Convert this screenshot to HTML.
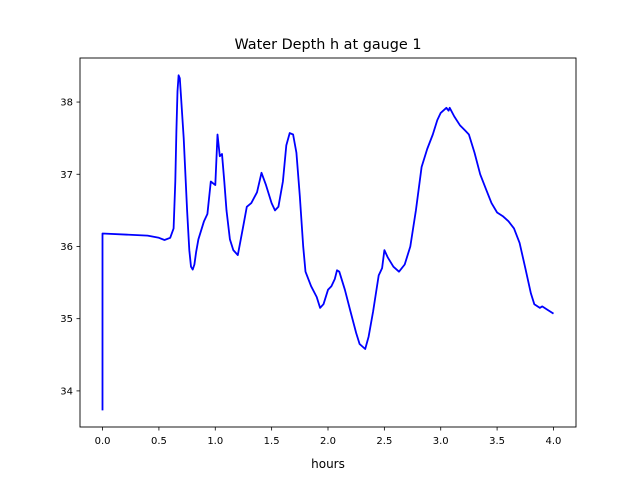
<!DOCTYPE html>
<html><head><meta charset="utf-8"><style>
body{margin:0;background:#fff;font-family:"Liberation Sans","DejaVu Sans",sans-serif}
svg text{font-family:"DejaVu Sans","Liberation Sans",sans-serif}
</style></head><body>
<svg id="chart" width="640" height="480" viewBox="0 0 640 480" xmlns="http://www.w3.org/2000/svg">
<rect width="640" height="480" fill="#fff"/>
<text x="328" y="49" text-anchor="middle" font-size="14.4">Water Depth h at gauge 1</text>
<g id="xt"></g>
<g id="yt"></g>
<path id="line" fill="none" stroke="#0000ff" stroke-width="1.8" stroke-linejoin="round"/>
<rect x="80" y="58" width="496" height="369" fill="none" stroke="#000" stroke-width="0.9"/>
<text x="328" y="468" text-anchor="middle" font-size="12">hours</text>
</svg>
<script>
const hours=[0,0,0.4,0.5,0.55,0.6,0.63,0.645,0.655,0.665,0.675,0.685,0.695,0.72,0.75,0.77,0.785,0.8,0.815,0.83,0.85,0.9,0.93,0.96,1.0,1.02,1.04,1.06,1.08,1.1,1.13,1.16,1.2,1.22,1.25,1.28,1.32,1.37,1.41,1.45,1.5,1.53,1.56,1.6,1.63,1.66,1.69,1.72,1.75,1.78,1.8,1.85,1.9,1.93,1.96,2.0,2.03,2.06,2.08,2.1,2.15,2.2,2.25,2.28,2.33,2.36,2.4,2.45,2.48,2.5,2.53,2.58,2.63,2.68,2.73,2.78,2.83,2.88,2.93,2.97,3.0,3.05,3.07,3.08,3.12,3.17,3.22,3.25,3.3,3.35,3.4,3.45,3.5,3.55,3.6,3.65,3.7,3.75,3.8,3.83,3.88,3.9,3.95,4.0];
const depth=[33.73,36.18,36.15,36.12,36.09,36.12,36.25,36.9,37.6,38.15,38.37,38.33,38.1,37.5,36.5,35.95,35.72,35.68,35.75,35.92,36.1,36.35,36.45,36.9,36.85,37.55,37.25,37.28,36.9,36.5,36.1,35.95,35.88,36.05,36.3,36.55,36.6,36.75,37.02,36.85,36.6,36.5,36.55,36.9,37.4,37.57,37.55,37.3,36.7,36.0,35.65,35.45,35.3,35.15,35.2,35.4,35.45,35.55,35.67,35.65,35.4,35.1,34.8,34.65,34.58,34.75,35.1,35.6,35.7,35.95,35.85,35.72,35.65,35.75,36.0,36.5,37.1,37.35,37.55,37.75,37.85,37.92,37.88,37.92,37.8,37.68,37.6,37.55,37.3,37.0,36.8,36.6,36.47,36.42,36.35,36.25,36.05,35.7,35.35,35.2,35.15,35.17,35.12,35.07];
const xTicks=[0,0.5,1,1.5,2,2.5,3,3.5,4];
const xLabels=["0.0","0.5","1.0","1.5","2.0","2.5","3.0","3.5","4.0"];
const yTicks=[34,35,36,37,38];
const yLabels=["34","35","36","37","38"];
const X0=80,X1=576,Y0=427,Y1=58,xmin=-0.2,xmax=4.2,ymin=33.5,ymax=38.61;
const sx=v=>X0+(v-xmin)/(xmax-xmin)*(X1-X0);
const sy=v=>Y0-(v-ymin)/(ymax-ymin)*(Y0-Y1);
const NS="http://www.w3.org/2000/svg";
let d="";
hours.forEach((h,i)=>{d+=(i?"L":"M")+sx(h).toFixed(1)+","+sy(depth[i]).toFixed(1);});
document.getElementById("line").setAttribute("d",d);
const xt=document.getElementById("xt");
xTicks.forEach((t,i)=>{
 const l=document.createElementNS(NS,"line");
 
 
 l.setAttribute("x1",sx(t));l.setAttribute("x2",sx(t));l.setAttribute("y1",Y0);l.setAttribute("y2",Y0+3.5);l.setAttribute("stroke","#000");l.setAttribute("stroke-width","0.8");
 xt.appendChild(l);
 const tx=document.createElementNS(NS,"text");
 
 
 tx.setAttribute("x",sx(t));tx.setAttribute("y",Y0+17);tx.setAttribute("text-anchor","middle");tx.setAttribute("font-size","10");
 tx.textContent=xLabels[i];xt.appendChild(tx);
});
const yt=document.getElementById("yt");
yTicks.forEach((t,i)=>{
 const l=document.createElementNS(NS,"line");
 
 
 l.setAttribute("x1",X0-3.5);l.setAttribute("x2",X0);l.setAttribute("y1",sy(t));l.setAttribute("y2",sy(t));l.setAttribute("stroke","#000");l.setAttribute("stroke-width","0.8");
 yt.appendChild(l);
 const tx=document.createElementNS(NS,"text");
 
 
 tx.setAttribute("x",X0-7);tx.setAttribute("y",sy(t)+3.5);tx.setAttribute("text-anchor","end");tx.setAttribute("font-size","10");
 tx.textContent=yLabels[i];yt.appendChild(tx);
});
</script>
</body></html>
